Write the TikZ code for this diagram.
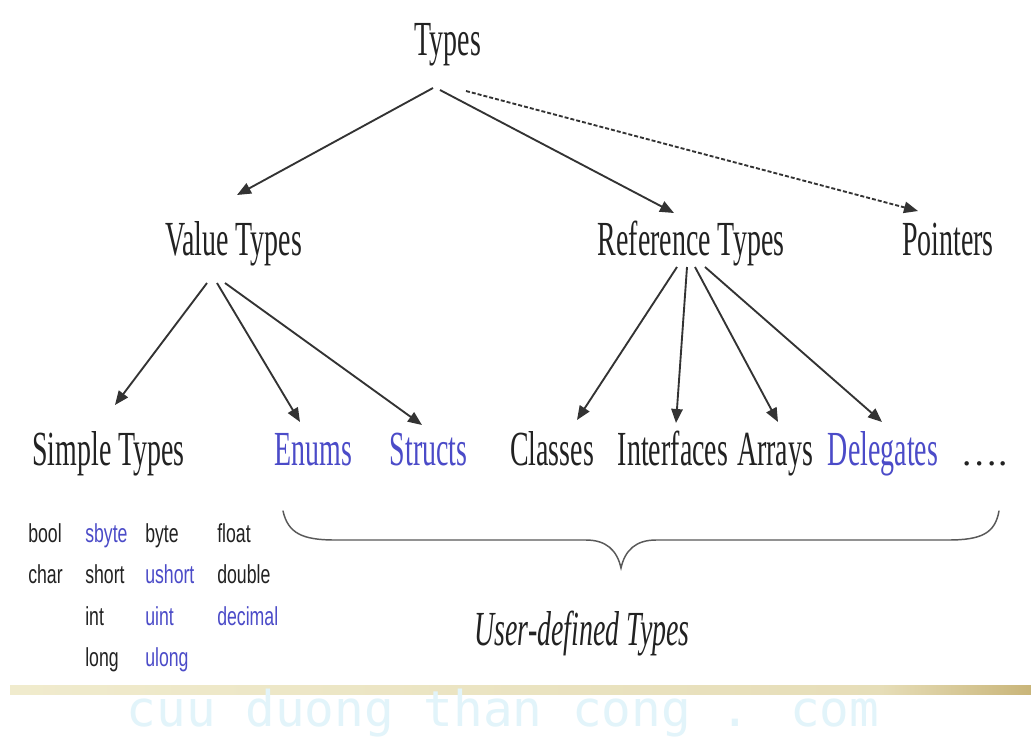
\documentclass[tikz,border=0pt]{standalone}
\usepackage{fontspec}
\setmainfont{Liberation Serif}
\newfontfamily\lblserif[FakeStretch=0.57]{Liberation Serif}
\newfontfamily\lblsans[FakeStretch=0.68]{Liberation Sans}
\newfontfamily\wmfont{DejaVu Sans Mono}
\usetikzlibrary{arrows.meta}
\definecolor{txt}{HTML}{222222}
\definecolor{blu}{HTML}{4B4BC8}
\definecolor{lin}{HTML}{333333}
\definecolor{wmc}{HTML}{E2F4FA}
\definecolor{bandA}{HTML}{F0EBCD}
\definecolor{bandB}{HTML}{C9B579}
\begin{document}
\begin{tikzpicture}[x=0.75pt,y=-0.75pt,
  big/.style={anchor=base, inner sep=0pt, text=txt, font=\lblserif\fontsize{36.75}{40}\selectfont},
  small/.style={anchor=base west, inner sep=0pt, text=txt, font=\lblsans\fontsize{19.5}{22}\selectfont},
  bl/.style={text=blu},
  arr/.style={draw=lin, line width=1.4pt, -{Triangle[length=10.5pt,width=8.5pt]}},
  dasharr/.style={arr, dash pattern=on 3pt off 1.5pt},
  bracestyle/.style={draw=black!65, line width=1.1pt, line cap=round},
]
\fill[white] (0,0) rectangle (1031,740);
\useasboundingbox (0,0) rectangle (1031,740);

% band and watermark
\shade[left color=bandA, right color=bandA!75!bandB] (10,685) rectangle (880,694);
\shade[left color=bandA!75!bandB, right color=bandB] (880,685) rectangle (1031,694);
\node[anchor=base, inner sep=0pt, text=wmc, font=\wmfont\fontsize{37}{40}\selectfont] (wm) at (503,726) {cuu duong than cong . com};

% main labels
\node[big] (types) at (448,55) {Types};
\node[big] (val) at (233.5,255) {Value Types};
\node[big] (ref) at (691,255) {Reference Types};
\node[big] (ptr) at (948,255) {Pointers};
\node[big] (simple) at (108.5,465) {Simple Types};
\node[big,bl] (enums) at (313.5,465) {Enums};
\node[big,bl] (structs) at (428.5,465) {Structs};
\node[big] (classes) at (552,465) {Classes};
\node[big] (ifaces) at (673,465) {Interfaces};
\node[big] (arrays) at (775,465) {Arrays};
\node[big,bl] (deleg) at (883,465) {Delegates};
\node[anchor=base, inner sep=0pt, text=txt, font=\fontsize{28}{30}\selectfont] (dots) at (984,465) {….};
\node[big, font=\lblserif\itshape\fontsize{36.75}{40}\selectfont] (udt) at (582,645) {User-defined Types};

% arrows
\draw[arr] ([shift={(-15,33)}]types.base) -- ([shift={(3.5,-60)}]val.base);
\draw[arr] ([shift={(-8,35)}]types.base) -- ([shift={(-17,-42)}]ref.base);
\draw[dasharr] ([shift={(18,36)}]types.base) -- ([shift={(-30,-44)}]ptr.base);
\draw[arr] ([shift={(-26.5,28)}]val.base) -- ([shift={(6.5,-60)}]simple.base);
\draw[arr] ([shift={(-16.5,28)}]val.base) -- ([shift={(-13.5,-43)}]enums.base);
\draw[arr] ([shift={(-8.5,28)}]val.base) -- ([shift={(-6.5,-40)}]structs.base);
\draw[arr] ([shift={(-14,12)}]ref.base) -- ([shift={(25,-45)}]classes.base);
\draw[arr] ([shift={(-4,12)}]ref.base) -- ([shift={(3,-42)}]ifaces.base);
\draw[arr] ([shift={(4,12)}]ref.base) -- ([shift={(3,-43)}]arrays.base);
\draw[arr] ([shift={(14,12)}]ref.base) -- ([shift={(-1,-43)}]deleg.base);

% brace
\draw[bracestyle] (283,511) .. controls (288,533) and (302,540) .. (335,540)
  -- (586,540) .. controls (606,540) and (617,550) .. (621,568)
  .. controls (625,550) and (636,540) .. (656,540)
  -- (948,540) .. controls (982,540) and (995,533) .. (999,511);

% simple types table
\node[small] (bool) at (28,542) {bool};
\node[small] (char) at (28,583) {char};
\node[small,bl] (sbyte) at (85,542) {sbyte};
\node[small] (short) at (85,583) {short};
\node[small] (int) at (85,625) {int};
\node[small] (long) at (85,666) {long};
\node[small] (byte) at (145,542) {byte};
\node[small,bl] (ushort) at (145,583) {ushort};
\node[small,bl] (uint) at (145,625) {uint};
\node[small,bl] (ulong) at (145,666) {ulong};
\node[small] (float) at (217,542) {float};
\node[small] (double) at (217,583) {double};
\node[small,bl] (decimal) at (217,625) {decimal};
\end{tikzpicture}
\end{document}
